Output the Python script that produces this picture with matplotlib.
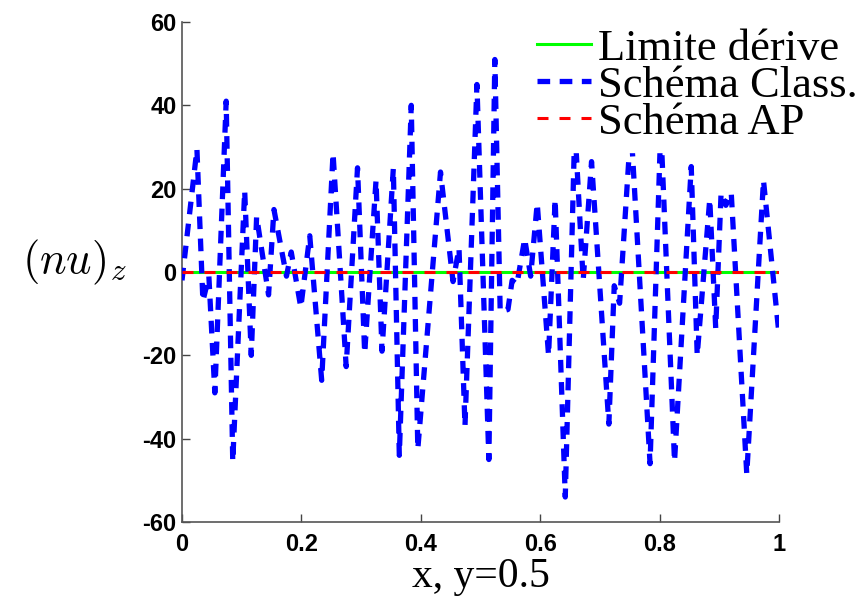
import matplotlib
matplotlib.use("Agg")
import matplotlib.pyplot as plt
import numpy as np

# ---- data ----
x_class = [0.000, 0.025, 0.035, 0.045, 0.055, 0.074, 0.085, 0.105, 0.116, 0.125,
           0.145, 0.154, 0.175, 0.183, 0.199, 0.214, 0.234, 0.253, 0.275, 0.294,
           0.306, 0.325, 0.335, 0.354, 0.364, 0.384, 0.395, 0.433, 0.454, 0.464,
           0.474, 0.494, 0.514, 0.524, 0.533, 0.546, 0.553, 0.561, 0.574, 0.584,
           0.595, 0.614, 0.625, 0.642, 0.658, 0.672, 0.686, 0.715, 0.724, 0.733,
           0.752, 0.784, 0.802, 0.825, 0.853, 0.863, 0.884, 0.894, 0.903, 0.911,
           0.920, 0.946, 0.974, 1.000]
y_class = [-2.0, 29.5, -7.0, -1.0, -29.0, 41.0, -45.5, 19.5, -20.0, 13.3,
           -5.5, 15.0, -1.0, 4.8, -8.5, 8.7, -26.0, 28.5, -22.7, 25.0,
           -19.5, 22.0, -19.0, 24.9, -44.0, 40.0, -42.5, 24.0, -2.3, 5.7,
           -37.0, 45.0, -45.0, 51.0, -9.5, -9.0, -2.0, -3.0, 8.0, -1.0,
           16.5, -20.0, 17.5, -54.0, 35.0, -2.0, 26.5, -36.5, -3.3, -7.5,
           35.0, -46.0, 35.0, -45.5, 25.3, -20.0, 17.5, -13.5, 19.0, 16.0,
           19.0, -48.5, 22.0, -15.0]
x_flat = [0.0, 1.0]
y_limite = [0.0, 0.0]
y_ap = [0.0, 0.0]

labels = ["Limite dérive", "Schéma Class.", "Schéma AP"]
xticks = [0, 0.2, 0.4, 0.6, 0.8, 1]
xticklabels = ["0", "0.2", "0.4", "0.6", "0.8", "1"]
yticks = [-60, -40, -20, 0, 20, 40, 60]
yticklabels = ["-60", "-40", "-20", "0", "20", "40", "60"]

plt.rcParams["mathtext.fontset"] = "cm"

fig = plt.figure(figsize=(8.63, 5.96), dpi=100)
ax = fig.add_axes([182/863, 1-522/596, (779-182)/863, 500/596])

ax.plot(x_flat, y_limite, color=(0, 1, 0), lw=2.2, label=labels[0], zorder=2)
ax.plot(x_class, y_class, color=(0, 0, 1), lw=3.8, label=labels[1],
        linestyle=(0, (2.4, 1.8)), zorder=3)
ax.plot(x_flat, y_ap, color=(1, 0, 0), lw=2.2, label=labels[2],
        linestyle=(0, (3.6, 3.6)), zorder=4)

ax.set_xlim(0, 1)
ax.set_ylim(-60, 60)
ax.set_xticks(xticks)
ax.set_xticklabels(xticklabels)
ax.set_yticks(yticks)
ax.set_yticklabels(yticklabels)
for lab in ax.get_xticklabels() + ax.get_yticklabels():
    lab.set_fontfamily("Liberation Sans")
    lab.set_fontweight("bold")
    lab.set_fontsize(17)
ax.tick_params(direction="in", length=6, width=1, color="#444444")
ax.tick_params(axis="y", pad=4)
ax.tick_params(axis="x", pad=8)
for s in ["top", "right"]:
    ax.spines[s].set_visible(False)
for s in ["left", "bottom"]:
    ax.spines[s].set_color("#555555")
    ax.spines[s].set_linewidth(1.2)

ax.text(0.5, -0.11, "x, y=0.5", transform=ax.transAxes, ha="center", va="center",
        fontsize=30, family="Liberation Serif")
ax.text(-0.18, 0.52, r"$(nu)_z$", transform=ax.transAxes, ha="center", va="center",
        fontsize=32)

leg = ax.legend(loc="upper left", bbox_to_anchor=(528/863, 1-20/596),
                bbox_transform=fig.transFigure, frameon=True,
                prop={"family": "Liberation Serif", "size": 32},
                handlelength=1.22, handletextpad=0.16, labelspacing=-0.07,
                borderpad=0.2, borderaxespad=0)
leg.get_frame().set_facecolor("white")
leg.get_frame().set_edgecolor("white")
leg.get_frame().set_alpha(1)
leg.set_zorder(10)

fig.savefig("out.png", dpi=100)
